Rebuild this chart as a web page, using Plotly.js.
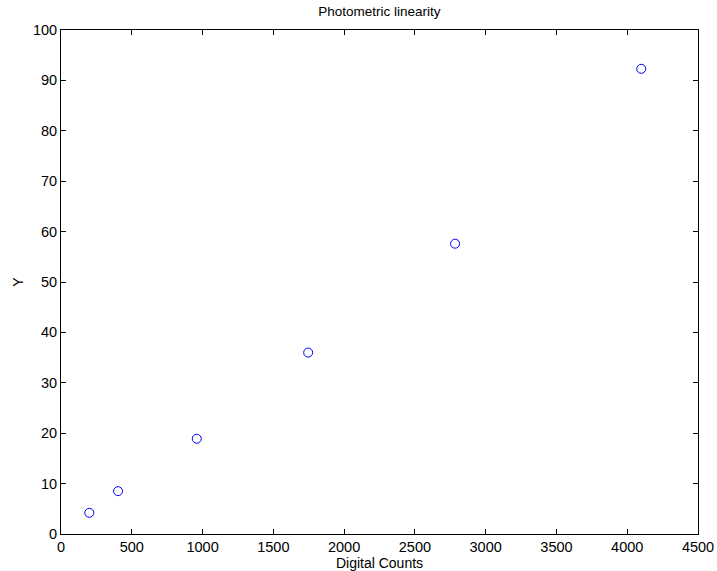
<!DOCTYPE html>
<html>
<head>
<meta charset="utf-8">
<script src="https://cdn.plot.ly/plotly-3.0.1.min.js"></script>
<style>html,body{margin:0;padding:0;background:#fff;}#chart{width:717px;height:571px;}</style>
</head>
<body>
<div id="chart"></div>
<script>
const digitalCounts = [200, 403, 959, 1746, 2784, 4099];
const yValues = [4.2, 8.5, 18.9, 36.0, 57.6, 92.3];
const xTicks = [0, 500, 1000, 1500, 2000, 2500, 3000, 3500, 4000, 4500];
const yTicks = [0, 10, 20, 30, 40, 50, 60, 70, 80, 90, 100];

const font = {family: 'Liberation Sans, Arial, sans-serif', size: 14, color: '#000'};
Plotly.newPlot('chart', [{
  x: digitalCounts, y: yValues, type: 'scatter', mode: 'markers',
  marker: {symbol: 'circle-open', size: 9, color: '#0000ff', line: {width: 1, color: '#0000ff'}}
}], {
  width: 717, height: 571,
  margin: {l: 61, r: 19, t: 30, b: 37},
  paper_bgcolor: '#fff', plot_bgcolor: '#fff',
  font: font,
  showlegend: false,
  title: {text: 'Photometric linearity', font: {family: font.family, size: 13.5, color: '#000'}, x: 0.529, xanchor: 'center', y: 0.988, yanchor: 'top'},
  xaxis: {
    range: [0, 4500], tickvals: xTicks, ticktext: xTicks.map(String),
    ticks: 'inside', ticklen: 5, tickcolor: '#000', showline: true, linecolor: '#000', linewidth: 1,
    mirror: 'ticks', showgrid: false, zeroline: false, tickfont: {size: 14.5},
    title: {text: 'Digital Counts', font: {size: 14}, standoff: 0}
  },
  yaxis: {
    range: [0, 100], tickvals: yTicks, ticktext: yTicks.map(String),
    ticks: 'inside', ticklen: 5, tickcolor: '#000', showline: true, linecolor: '#000', linewidth: 1,
    mirror: 'ticks', showgrid: false, zeroline: false, tickfont: {size: 14.5},
    title: {text: 'Y', font: {size: 14}, standoff: 5}
  }
}, {staticPlot: true, displayModeBar: false});
</script>
</body>
</html>
